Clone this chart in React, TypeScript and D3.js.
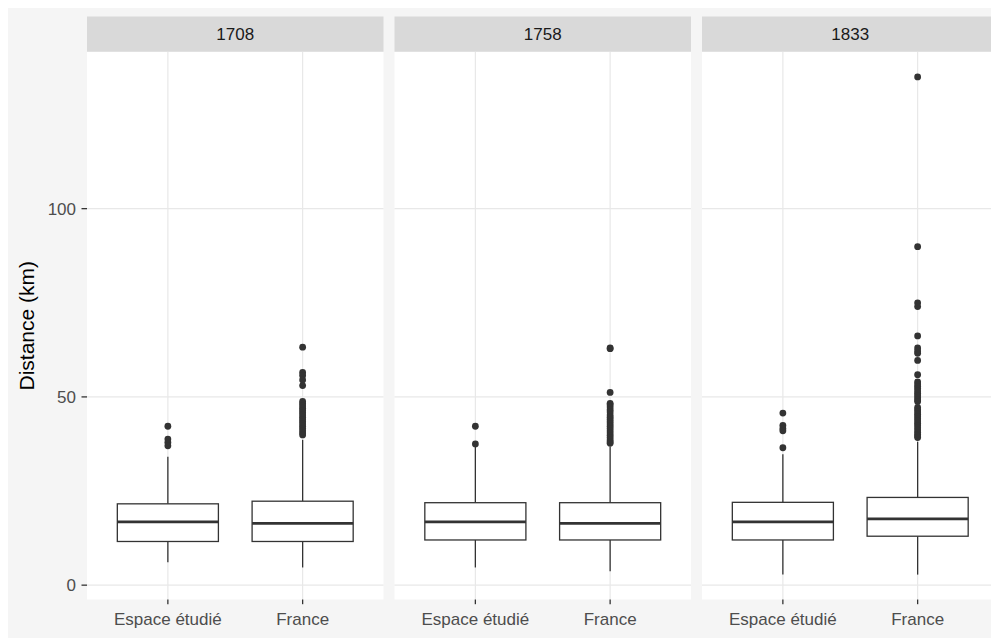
import React from "react";
import * as d3 from "d3";

const facets = ["1708", "1758", "1833"];
const categories = ["Espace étudié", "France"];

// [lower whisker, q1, median, q3, upper whisker] per facet, per category
const stats1708 = [
  [6.1, 11.6, 16.8, 21.6, 34.1],
  [4.7, 11.6, 16.4, 22.3, 38.6],
];
const stats1758 = [
  [4.7, 12.0, 16.8, 21.9, 36.8],
  [3.7, 12.0, 16.4, 21.9, 36.9],
];
const stats1833 = [
  [2.8, 12.0, 16.8, 22.0, 34.8],
  [2.8, 13.0, 17.6, 23.3, 38.1],
];

const outliers1708 = [
  [42.2, 38.8, 37.9, 37.0],
  [63.2, 56.5, 55.7, 54.5, 53.0, 48.8, 48.2, 47.6, 47.0, 46.4, 45.8, 45.2, 44.6, 44.0, 43.4, 42.8, 42.2, 41.6, 41.0, 40.4, 39.9],
];
const outliers1758 = [
  [42.2, 37.5],
  [63.0, 62.8, 51.2, 48.3, 47.9, 47.3, 46.6, 46.0, 45.2, 44.6, 44.0, 43.4, 42.8, 42.2, 41.6, 41.0, 40.4, 39.8, 39.2, 38.6, 38.1, 37.7],
];
const outliers1833 = [
  [45.7, 42.4, 41.6, 41.0, 36.5],
  [135.0, 89.9, 75.0, 74.0, 66.2, 63.0, 62.2, 61.6, 59.7, 55.9, 54.0, 53.4, 52.8, 52.2, 51.6, 51.0, 50.4, 49.8, 49.2, 48.8,
    47.2, 46.6, 46.0, 45.4, 44.8, 44.2, 43.6, 43.0, 42.4, 41.8, 41.2, 40.6, 40.0, 39.6, 39.2],
];

const yTicks = [0, 50, 100];

const allStats = [stats1708, stats1758, stats1833];
const allOutliers = [outliers1708, outliers1758, outliers1833];

export default function App() {
  const W = 991;
  const H = 630;
  const panelW = 296.5;
  const gap = 11;
  const panelX0 = 79;
  const panelTop = 44;
  const panelBottom = 591.5;
  const stripTop = 8.5;
  const stripH = 35.2;

  const allVals: number[] = [];
  allStats.forEach((f) => f.forEach((s) => allVals.push(...s)));
  allOutliers.forEach((f) => f.forEach((o) => allVals.push(...o)));
  const [mn, mx] = d3.extent(allVals) as [number, number];
  const pad = (mx - mn) * 0.05;
  const y = d3.scaleLinear().domain([mn - pad, mx + pad]).range([panelBottom, panelTop]);

  const stroke = "#333333";
  const font = "'Liberation Sans', Arial, sans-serif";
  const sw = 1.3;

  return (
    <svg width={W} height={H} style={{ display: "block" }} fontFamily={font}>
      <rect x={0} y={0} width={W} height={H} fill="#f5f5f5" />
      {facets.map((f, fi) => {
        const px = panelX0 + fi * (panelW + gap);
        const x = d3.scalePoint<string>().domain(categories).range([px, px + panelW]).padding(0.6);
        const step = x.step();
        const bw = step * 0.75;
        return (
          <g key={f}>
            <rect x={px} y={stripTop} width={panelW} height={stripH} fill="#d9d9d9" />
            <text x={px + panelW / 2} y={stripTop + stripH / 2} dy="0.35em" textAnchor="middle" fontSize={17} fill="#1a1a1a">
              {f}
            </text>
            <rect x={px} y={panelTop} width={panelW} height={panelBottom - panelTop} fill="#ffffff" />
            {yTicks.map((t) => (
              <line key={t} x1={px} x2={px + panelW} y1={y(t)} y2={y(t)} stroke="#e8e8e8" strokeWidth={1.2} />
            ))}
            {categories.map((c) => (
              <line key={c} x1={x(c)} x2={x(c)} y1={panelTop} y2={panelBottom} stroke="#e8e8e8" strokeWidth={1.2} />
            ))}
            {categories.map((c, ci) => {
              const s = allStats[fi][ci];
              const cx = x(c) as number;
              return (
                <g key={c}>
                  <line x1={cx} x2={cx} y1={y(s[3])} y2={y(s[4])} stroke={stroke} strokeWidth={sw} />
                  <line x1={cx} x2={cx} y1={y(s[1])} y2={y(s[0])} stroke={stroke} strokeWidth={sw} />
                  <rect x={cx - bw / 2} y={y(s[3])} width={bw} height={y(s[1]) - y(s[3])} fill="#ffffff" stroke={stroke} strokeWidth={sw} />
                  <line x1={cx - bw / 2} x2={cx + bw / 2} y1={y(s[2])} y2={y(s[2])} stroke={stroke} strokeWidth={2.6} />
                  {allOutliers[fi][ci].map((v, i) => (
                    <circle key={i} cx={cx} cy={y(v)} r={3.4} fill={stroke} />
                  ))}
                  <line x1={cx} x2={cx} y1={panelBottom} y2={panelBottom + 4.7} stroke={stroke} strokeWidth={sw} />
                  <text x={cx} y={617} textAnchor="middle" fontSize={17} fill="#4d4d4d">
                    {c}
                  </text>
                </g>
              );
            })}
          </g>
        );
      })}
      {yTicks.map((t) => (
        <g key={t}>
          <line x1={panelX0 - 5.5} x2={panelX0} y1={y(t)} y2={y(t)} stroke={stroke} strokeWidth={sw} />
          <text x={panelX0 - 11} y={y(t)} dy="0.35em" textAnchor="end" fontSize={17} fill="#4d4d4d">
            {t}
          </text>
        </g>
      ))}
      <text
        transform={`translate(19,${(panelTop + panelBottom) / 2}) rotate(-90)`}
        dy="0.35em"
        textAnchor="middle"
        fontSize={21}
        fill="#000000"
      >
        Distance (km)
      </text>
    </svg>
  );
}
